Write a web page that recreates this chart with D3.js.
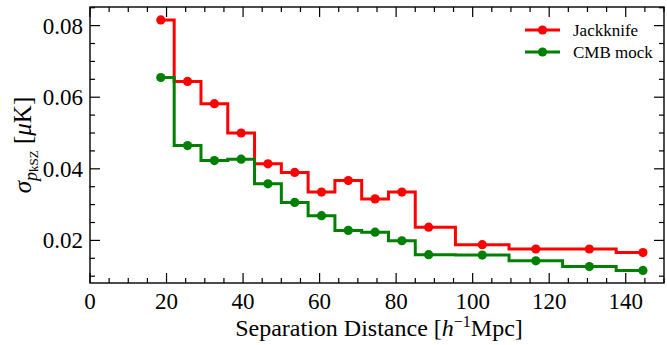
<!DOCTYPE html>
<html>
<head>
<meta charset="utf-8">
<script src="https://cdn.jsdelivr.net/npm/d3@7"></script>
<style>
  body { margin: 0; background: #fff; }
  svg text { font-family: "Liberation Serif", "DejaVu Serif", serif; fill: #000; }
</style>
</head>
<body>
<svg id="chart" width="667" height="345"></svg>
<script>
// separation bin centres (h^-1 Mpc)
const separation = [18.5, 25.5, 32.5, 39.5, 46.5, 53.5, 60.5, 67.5, 74.5, 81.5, 88.5, 102.5, 116.5, 130.5, 144.5];
const jackknife = [0.0816, 0.0644, 0.0582, 0.0500, 0.0414, 0.0390, 0.0335, 0.0367, 0.0316, 0.0335, 0.0237, 0.0188, 0.0176, 0.0176, 0.0166];
const cmbMock = [0.0655, 0.0465, 0.0423, 0.0427, 0.0358, 0.0306, 0.0269, 0.0228, 0.0223, 0.0199, 0.0160, 0.0159, 0.0143, 0.0127, 0.0116];
const seriesNames = ["Jackknife", "CMB mock"];
const seriesColors = ["#ff0000", "#008000"];
const xTicks = [0, 20, 40, 60, 80, 100, 120, 140];
const yTicks = [0.02, 0.04, 0.06, 0.08];

const svg = d3.select("#chart");
const margin = { left: 90, right: 3, top: 7, bottom: 62 };
const W = 667, H = 345;

const x = d3.scaleLinear().domain([0, 150]).range([margin.left, W - margin.right]);
const y = d3.scaleLinear().domain([0.0081, 0.0852]).range([H - margin.bottom, margin.top]);

// series, drawn as steps centred on each bin
const series = [jackknife, cmbMock];
const line = d3.line()
  .x((d, i) => x(separation[i]))
  .y(d => y(d))
  .curve(d3.curveStep);

series.forEach((vals, k) => {
  svg.append("path")
    .datum(vals)
    .attr("d", line)
    .attr("fill", "none")
    .attr("stroke", seriesColors[k])
    .attr("stroke-width", 3);
  svg.selectAll(null)
    .data(vals)
    .join("circle")
      .attr("cx", (d, i) => x(separation[i]))
      .attr("cy", d => y(d))
      .attr("r", 4.6)
      .attr("fill", seriesColors[k]);
});

// ticks (inward, all four sides)
const x0 = x.range()[0], x1 = x.range()[1];
const y0 = y.range()[0], y1 = y.range()[1];
const ticks = svg.append("g").attr("stroke", "#000").attr("stroke-width", 1.2);

const xMinor = d3.range(0, 151, 5);
xMinor.forEach(v => {
  const major = v % 20 === 0;
  const len = major ? 10 : 5;
  ticks.append("line").attr("x1", x(v)).attr("x2", x(v)).attr("y1", y0).attr("y2", y0 - len);
  ticks.append("line").attr("x1", x(v)).attr("x2", x(v)).attr("y1", y1).attr("y2", y1 + len);
});
const yMinor = d3.range(0.01, 0.0851, 0.005);
yMinor.forEach(v => {
  const major = yTicks.some(t => Math.abs(t - v) < 1e-9);
  const len = major ? 10 : 5;
  ticks.append("line").attr("y1", y(v)).attr("y2", y(v)).attr("x1", x0).attr("x2", x0 + len);
  ticks.append("line").attr("y1", y(v)).attr("y2", y(v)).attr("x1", x1).attr("x2", x1 - len);
});

// frame
svg.append("rect")
  .attr("x", x0).attr("y", y1)
  .attr("width", x1 - x0).attr("height", y0 - y1)
  .attr("fill", "none").attr("stroke", "#000").attr("stroke-width", 1.4);

// tick labels
svg.selectAll(null).data(xTicks).join("text")
  .attr("x", d => x(d)).attr("y", y0 + 26)
  .attr("text-anchor", "middle").attr("font-size", 23)
  .text(d => d);
svg.selectAll(null).data(yTicks).join("text")
  .attr("x", x0 - 7).attr("y", d => y(d) + 8)
  .attr("text-anchor", "end").attr("font-size", 23)
  .text(d => d.toFixed(2));

// axis titles
const xl = svg.append("text")
  .attr("x", (x0 + x1) / 2 + 2).attr("y", 336)
  .attr("text-anchor", "middle").attr("font-size", 24);
xl.append("tspan").text("Separation Distance [");
xl.append("tspan").attr("font-style", "italic").text("h");
xl.append("tspan").attr("font-size", 16).attr("dy", -9).text("\u22121");
xl.append("tspan").attr("dy", 9).text("Mpc]");

const yl = svg.append("text")
  .attr("transform", `translate(31,${(y0 + y1) / 2}) rotate(-90)`)
  .attr("text-anchor", "middle").attr("font-size", 25);
yl.append("tspan").attr("font-style", "italic").text("\u03c3");
yl.append("tspan").attr("font-style", "italic").attr("font-size", 18).attr("dy", 6).text("p");
yl.append("tspan").attr("font-size", 13).attr("dy", 1).text("kSZ");
yl.append("tspan").attr("dy", -7).text(" [");
yl.append("tspan").attr("font-style", "italic").text("\u03bc");
yl.append("tspan").text("K]");

// legend
const legend = svg.append("g");
seriesNames.forEach((name, k) => {
  const ly = 30 + k * 22;
  legend.append("line").attr("x1", 525).attr("x2", 560).attr("y1", ly).attr("y2", ly)
    .attr("stroke", seriesColors[k]).attr("stroke-width", 3);
  legend.append("circle").attr("cx", 542.5).attr("cy", ly).attr("r", 4.6).attr("fill", seriesColors[k]);
  legend.append("text").attr("x", 573).attr("y", ly + 5.5).attr("font-size", 17).text(name);
});
</script>
</body>
</html>
